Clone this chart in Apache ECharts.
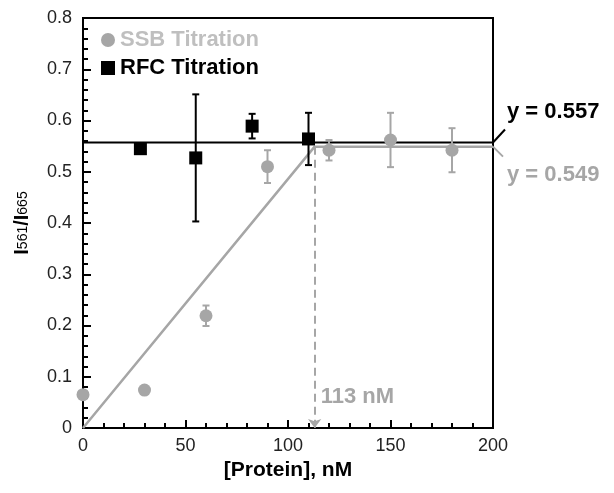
<!DOCTYPE html>
<html>
<head>
<meta charset="utf-8">
<script src="https://cdn.jsdelivr.net/npm/echarts@6/dist/echarts.min.js"></script>
<style>
  html, body { margin: 0; padding: 0; background: #fff; }
  #chart { width: 614px; height: 493px; }
</style>
</head>
<body>
<div id="chart"></div>
<script>
// ---- data ----
const ssbX = [0, 30, 60, 90, 120, 150, 180];
const ssbY = [0.065, 0.074, 0.219, 0.510, 0.542, 0.562, 0.542];
const ssbErr = [0, 0, 0.020, 0.032, 0.020, 0.053, 0.043];

const rfcX = [28, 55, 82.5, 110];
const rfcY = [0.545, 0.527, 0.589, 0.564];
const rfcErr = [0.006, 0.124, 0.024, 0.051];

const rfcPlateau = 0.557;
const ssbPlateau = 0.549;
const ssbBreak = 113;

const xTicks = [0, 50, 100, 150, 200];
const yTicks = [0, 0.1, 0.2, 0.3, 0.4, 0.5, 0.6, 0.7, 0.8];

const FONT = "'Liberation Sans', Arial, sans-serif";
const GRAY = '#a6a6a6';

function pts(xs, ys) { return xs.map((x, i) => [x, ys[i]]); }
function errData(xs, ys, es) { return xs.map((x, i) => [x, ys[i] - es[i], ys[i] + es[i]]); }

function errBar(color) {
  return function (params, api) {
    const x = api.value(0);
    const lo = api.coord([x, api.value(1)]);
    const hi = api.coord([x, api.value(2)]);
    const w = 3.5;
    const style = { stroke: color, lineWidth: 2 };
    return {
      type: 'group',
      children: [
        { type: 'line', shape: { x1: lo[0], y1: lo[1], x2: hi[0], y2: hi[1] }, style: style },
        { type: 'line', shape: { x1: lo[0] - w, y1: lo[1], x2: lo[0] + w, y2: lo[1] }, style: style },
        { type: 'line', shape: { x1: hi[0] - w, y1: hi[1], x2: hi[0] + w, y2: hi[1] }, style: style }
      ]
    };
  };
}

const chart = echarts.init(document.getElementById('chart'), null, { renderer: 'canvas' });

const option = {
  animation: false,
  backgroundColor: '#fff',
  textStyle: { fontFamily: FONT },
  grid: { left: 83, top: 18, width: 410, height: 410, containLabel: false, outerBoundsMode: 'none', show: true, borderColor: '#000', borderWidth: 2, backgroundColor: 'transparent' },
  legend: {
    orient: 'vertical',
    left: 96,
    top: 24,
    itemWidth: 14,
    itemHeight: 14,
    itemGap: 6,
    selectedMode: false,
    textStyle: { fontFamily: FONT, fontSize: 22, fontWeight: 'bold', lineHeight: 22 },
    data: [
      { name: 'SSB Titration', icon: 'circle', textStyle: { color: '#bfbfbf' } },
      { name: 'RFC Titration', icon: 'rect', textStyle: { color: '#000' } }
    ]
  },
  xAxis: {
    type: 'value', min: 0, max: 200, interval: 50,
    name: '[Protein], nM', nameLocation: 'middle', nameGap: 32,
    nameTextStyle: { fontFamily: FONT, fontSize: 21, fontWeight: 'bold', color: '#000' },
    axisLine: { show: true, lineStyle: { color: '#000', width: 2 } },
    axisTick: { show: true, inside: true, length: 8, lineStyle: { color: '#000', width: 2 } },
    minorTick: { show: true, splitNumber: 5, length: 5, lineStyle: { color: '#000', width: 2 } },
    splitLine: { show: false },
    axisLabel: {
      fontFamily: FONT, fontSize: 18, color: '#222', margin: 9,
      formatter: v => xTicks.includes(v) ? String(v) : ''
    }
  },
  yAxis: {
    type: 'value', min: 0, max: 0.8, interval: 0.1,
    name: '{b|I}{s|561}{b|/I}{s|665}', nameLocation: 'middle', nameRotate: 90, nameGap: 50,
    nameTextStyle: {
      fontFamily: FONT, color: '#000',
      rich: {
        b: { fontFamily: FONT, fontSize: 20, fontWeight: 'bold', color: '#000', verticalAlign: 'top', lineHeight: 22, height: 28 },
        s: { fontFamily: FONT, fontSize: 14, color: '#000', verticalAlign: 'bottom', lineHeight: 14, padding: [14, 0, 0, 0] }
      }
    },
    axisLine: { show: true, lineStyle: { color: '#000', width: 2 } },
    axisTick: { show: true, inside: true, length: 8, lineStyle: { color: '#000', width: 2 } },
    minorTick: { show: true, splitNumber: 5, length: 5, lineStyle: { color: '#000', width: 2 } },
    splitLine: { show: false },
    axisLabel: {
      fontFamily: FONT, fontSize: 18, color: '#222', margin: 11,
      formatter: v => {
        const t = yTicks.find(tt => Math.abs(tt - v) < 1e-9);
        return t === undefined ? '' : (t === 0 ? '0' : t.toFixed(1));
      }
    }
  },
  series: [
    {
      name: 'SSB fit', type: 'line', silent: true, symbol: 'none', z: 2,
      lineStyle: { color: GRAY, width: 2.5 },
      data: [[0, 0], [ssbBreak, ssbPlateau], [200, ssbPlateau]],
      markLine: {
        silent: true,
        symbol: ['none', 'arrow'],
        symbolSize: [10, 9],
        label: { show: false },
        lineStyle: { color: GRAY, width: 2, type: [8, 5] },
        data: [[{ coord: [ssbBreak, ssbPlateau] }, { coord: [ssbBreak, 0] }]]
      }
    },
    {
      name: 'RFC fit', type: 'line', silent: true, symbol: 'none', z: 3,
      lineStyle: { color: '#000', width: 2 },
      data: [[0, rfcPlateau], [200, rfcPlateau]]
    },
    {
      name: 'SSB err', type: 'custom', z: 4, silent: true,
      renderItem: errBar(GRAY),
      encode: { x: 0, y: [1, 2] },
      data: errData(ssbX, ssbY, ssbErr)
    },
    {
      name: 'RFC err', type: 'custom', z: 4, silent: true,
      renderItem: errBar('#000'),
      encode: { x: 0, y: [1, 2] },
      data: errData(rfcX, rfcY, rfcErr)
    },
    {
      name: 'SSB Titration', type: 'scatter', z: 5,
      symbol: 'circle', symbolSize: 13,
      itemStyle: { color: GRAY, opacity: 1 },
      data: pts(ssbX, ssbY)
    },
    {
      name: 'RFC Titration', type: 'scatter', z: 6,
      symbol: 'rect', symbolSize: 13,
      itemStyle: { color: '#000', opacity: 1 },
      data: pts(rfcX, rfcY)
    }
  ]
};

chart.setOption(option);

// annotations positioned through the axes
const P = v => chart.convertToPixel({ xAxisIndex: 0, yAxisIndex: 0 }, v);
const endRfc = P([200, rfcPlateau]);
const endSsb = P([200, ssbPlateau]);
const brk = P([ssbBreak, 0]);
const annFont = { fontFamily: FONT, fontSize: 22, fontWeight: 'bold' };

chart.setOption({
  graphic: [
    { type: 'line', shape: { x1: endRfc[0], y1: endRfc[1], x2: endRfc[0] + 12, y2: endRfc[1] - 13 }, style: { stroke: '#000', lineWidth: 2 } },
    { type: 'line', shape: { x1: endSsb[0], y1: endSsb[1], x2: endSsb[0] + 10, y2: endSsb[1] + 10 }, style: { stroke: GRAY, lineWidth: 2 } },
    { type: 'text', x: endRfc[0] + 14, y: endRfc[1] - 31, style: Object.assign({ text: 'y = ' + rfcPlateau.toFixed(3), fill: '#000', verticalAlign: 'middle', align: 'left' }, annFont) },
    { type: 'text', x: endSsb[0] + 14, y: endSsb[1] + 28, style: Object.assign({ text: 'y = ' + ssbPlateau.toFixed(3), fill: GRAY, verticalAlign: 'middle', align: 'left' }, annFont) },
    { type: 'text', x: brk[0] + 6, y: brk[1] - 31, style: Object.assign({ text: ssbBreak + ' nM', fill: GRAY, verticalAlign: 'middle', align: 'left' }, annFont) }
  ]
});
</script>
</body>
</html>
